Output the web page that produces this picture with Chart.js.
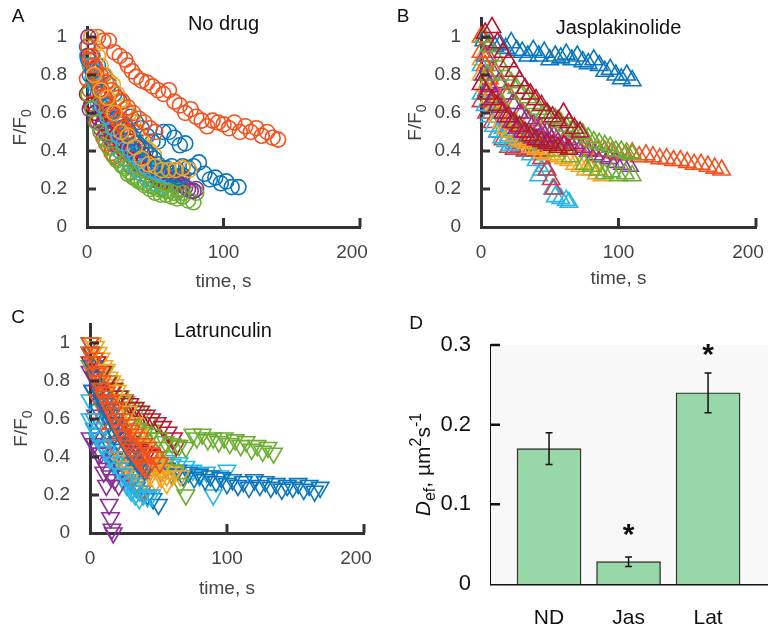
<!DOCTYPE html>
<html>
<head>
<meta charset="utf-8">
<script src="https://cdn.jsdelivr.net/npm/chart.js@4.4.1/dist/chart.umd.min.js"></script>
<style>
  body{margin:0;background:#fff;width:768px;height:627px;overflow:hidden;position:relative}
  canvas{position:absolute}
</style>
</head>
<body>
<canvas id="cA" width="384" height="300" style="left:0;top:0"></canvas>
<canvas id="cB" width="384" height="300" style="left:384px;top:0"></canvas>
<canvas id="cC" width="384" height="327" style="left:0;top:300px"></canvas>
<canvas id="cD" width="384" height="327" style="left:384px;top:300px"></canvas>
<script>
const FONT = "'Liberation Sans', Arial, Helvetica, sans-serif"
const COLORS = {blue:'#0a76bf', orange:'#f4511e', yellow:'#f7a51c', purple:'#8a2f9b',
  green:'#6aaf30', cyan:'#28b6e6', red:'#b8162e', rose:'#c9404f'}

// shared tick values for the recovery panels
const timeTicks = [0, 100, 200]
const ratioTicks = [0, 0.2, 0.4, 0.6, 0.8, 1]

// ---- A: No drug, [time s, F/F0]
const aBlue1 = [[0,0.95],[4,0.9],[8,0.85],[12,0.8],[16,0.75],[20,0.7],[24,0.66],[28,0.62],[32,0.58],[36,0.55],[40,0.52],[44,0.48],[48,0.45],[52,0.45],[56,0.5],[60,0.5],[64,0.47],[68,0.43],[72,0.44]]
const aOrange1 = [[3,1.0],[8,1.0],[12,0.98],[16,0.98],[20,0.92],[24,0.9],[28,0.88],[30,0.85],[33,0.82],[36,0.79],[40,0.77],[44,0.76],[48,0.74],[52,0.72],[56,0.7],[60,0.72],[64,0.66],[68,0.64],[72,0.6],[76,0.62],[80,0.58],[84,0.56],[88,0.53],[92,0.56],[96,0.55],[100,0.54],[104,0.52],[108,0.55],[112,0.5],[116,0.53],[120,0.5],[124,0.52],[128,0.48],[132,0.5],[136,0.47],[140,0.46]]
const aYellow1 = [[3,1.0],[5,0.95],[8,0.9],[10,0.85],[13,0.8],[16,0.77],[19,0.75],[22,0.7],[25,0.67],[28,0.62],[31,0.6],[34,0.55],[37,0.5],[40,0.45],[43,0.42],[46,0.4],[49,0.38],[52,0.3],[55,0.27],[58,0.24]]
const aPurple1 = [[1,1.0],[4,0.85],[8,0.7],[12,0.6],[16,0.52],[20,0.45],[24,0.4],[28,0.36],[32,0.32],[36,0.3],[40,0.28],[44,0.27],[48,0.25],[52,0.24],[56,0.24],[60,0.23],[64,0.22],[68,0.2],[72,0.21],[76,0.19],[80,0.2]]
const aGreen1 = [[2,0.85],[6,0.75],[10,0.62],[14,0.5],[18,0.42],[22,0.36],[26,0.32],[30,0.28],[34,0.26],[38,0.24],[42,0.22],[46,0.2],[50,0.18],[54,0.17],[58,0.17],[62,0.16],[66,0.15],[70,0.16],[74,0.14],[78,0.13],[80,0.18]]
const aCyan1 = [[0,0.9],[4,0.78],[8,0.65],[12,0.55],[16,0.48],[20,0.43],[24,0.4],[28,0.36],[32,0.33],[36,0.3],[40,0.28],[44,0.25],[48,0.23],[52,0.22],[56,0.21]]
const aRed1 = [[1,0.9],[5,0.8],[9,0.72],[13,0.65],[17,0.6],[21,0.56],[25,0.52],[29,0.48],[33,0.45],[37,0.42],[41,0.38],[45,0.34],[49,0.3],[53,0.27],[57,0.25],[61,0.26]]
const aBlue2 = [[2,0.8],[6,0.72],[10,0.64],[14,0.58],[18,0.53],[22,0.48],[26,0.44],[30,0.4],[34,0.37],[38,0.34],[42,0.32],[46,0.3],[50,0.31],[54,0.3],[58,0.31],[62,0.32],[66,0.3],[70,0.32],[74,0.31],[78,0.32],[82,0.34],[86,0.28],[90,0.25],[94,0.26],[98,0.23],[102,0.24],[106,0.21],[111,0.21]]
const aOrange2 = [[0,0.78],[2,0.72],[4,0.65],[6,0.6],[8,0.55],[10,0.5],[12,0.47],[14,0.44],[16,0.42],[18,0.39],[20,0.37]]
const aOrange3 = [[2,0.88],[6,0.84],[10,0.8],[14,0.76],[18,0.72],[22,0.68],[26,0.66],[30,0.63],[34,0.6],[38,0.57],[42,0.55],[46,0.52],[50,0.5]]
const aYellow2 = [[5,0.8],[10,0.72],[15,0.68],[20,0.6],[25,0.5],[30,0.48],[35,0.42],[40,0.36],[45,0.33],[50,0.32],[55,0.3],[60,0.3],[65,0.3],[70,0.31],[75,0.3]]
const aRed2 = [[0,0.7],[3,0.64],[6,0.6],[9,0.57],[12,0.55],[15,0.53],[18,0.5],[21,0.48],[24,0.46],[27,0.44],[30,0.42],[33,0.41],[36,0.4],[39,0.37],[42,0.35],[45,0.33],[48,0.3],[51,0.28],[54,0.25],[57,0.24],[60,0.27],[63,0.25],[66,0.24],[69,0.26]]
const aPurple2 = [[2,0.62],[6,0.56],[10,0.52],[14,0.49],[18,0.46],[22,0.43],[26,0.41],[30,0.39],[34,0.36],[38,0.33],[42,0.31],[46,0.29],[50,0.27],[54,0.26],[58,0.25],[62,0.26],[66,0.23],[70,0.22],[74,0.2],[78,0.19]]
const aGreen2 = [[1,0.7],[4,0.62],[7,0.55],[10,0.5],[13,0.46],[16,0.42],[19,0.38],[22,0.35],[25,0.33],[28,0.31],[31,0.29],[34,0.27],[37,0.25],[40,0.24],[43,0.23],[46,0.22],[49,0.21],[52,0.2],[55,0.2],[58,0.19],[61,0.19],[64,0.18],[67,0.19],[70,0.18]]
const aCyan2 = [[3,0.85],[7,0.74],[11,0.64],[15,0.58],[19,0.52],[23,0.48],[27,0.44],[31,0.41],[35,0.38],[39,0.35],[43,0.32],[47,0.3],[51,0.29],[55,0.28],[59,0.27]]
const aBlue3 = [[1,0.88],[4,0.82],[7,0.77],[10,0.72],[13,0.68],[16,0.64],[19,0.6],[22,0.57],[25,0.55],[28,0.53],[31,0.5],[34,0.47],[37,0.44],[40,0.42],[43,0.4],[46,0.38],[49,0.36],[52,0.33],[55,0.31],[58,0.3],[61,0.28],[64,0.27],[67,0.26],[70,0.27]]
const aOrange4 = [[1,0.95],[3,0.9],[5,0.85],[7,0.8],[9,0.76],[11,0.72],[13,0.68],[15,0.65],[17,0.62],[19,0.6],[21,0.58],[23,0.56],[25,0.54],[27,0.52],[29,0.5]]

// ---- B: Jasplakinolide
const bBlue = [[2,0.98],[6,0.96],[10,0.95],[14,0.96],[18,0.94],[22,0.97],[26,0.93],[30,0.92],[34,0.9],[38,0.93],[42,0.9],[46,0.92],[50,0.88],[54,0.9],[58,0.89],[62,0.91],[66,0.88],[70,0.9],[74,0.87],[78,0.86],[82,0.88],[86,0.85],[90,0.82],[94,0.83],[98,0.8],[102,0.78],[106,0.8],[110,0.77]]
const bOrange = [[0,1.0],[5,0.9],[10,0.82],[15,0.75],[20,0.7],[25,0.65],[30,0.6],[35,0.56],[40,0.53],[45,0.5],[50,0.48],[55,0.46],[60,0.45],[65,0.44],[70,0.43],[75,0.42],[80,0.41],[85,0.4],[90,0.4],[95,0.39],[100,0.38],[105,0.38],[110,0.39],[115,0.37],[120,0.38],[125,0.37],[130,0.36],[135,0.36],[140,0.35],[145,0.35],[150,0.34],[155,0.33],[160,0.33],[165,0.32],[170,0.31],[175,0.3]]
const bYellow = [[0,0.88],[4,0.8],[8,0.72],[12,0.65],[16,0.6],[20,0.56],[24,0.52],[28,0.5],[32,0.47],[36,0.45],[40,0.43],[44,0.41],[48,0.4],[52,0.38],[56,0.37],[60,0.36],[64,0.35],[68,0.33],[72,0.32],[76,0.3],[80,0.3],[84,0.28],[88,0.27]]
const bPurple = [[3,0.9],[8,0.82],[13,0.76],[18,0.7],[23,0.65],[28,0.6],[33,0.57],[38,0.54],[43,0.52],[48,0.5],[53,0.48],[58,0.47],[63,0.46],[68,0.44],[73,0.42],[78,0.4],[83,0.38],[88,0.37],[93,0.36],[98,0.34],[103,0.33],[108,0.32]]
const bGreen1 = [[2,1.0],[6,0.95],[10,0.9],[14,0.85],[18,0.8],[22,0.76],[26,0.73],[30,0.7],[34,0.68],[38,0.65],[42,0.62],[46,0.6],[50,0.58],[54,0.57],[58,0.55],[62,0.53],[66,0.51],[70,0.5],[74,0.49],[78,0.47],[82,0.45],[86,0.44],[90,0.43],[94,0.42],[98,0.4],[102,0.4],[106,0.39],[110,0.38]]
const bCyan = [[0,0.85],[4,0.72],[8,0.64],[12,0.58],[16,0.52],[20,0.48],[24,0.44],[28,0.42],[32,0.4],[36,0.38],[40,0.35],[42,0.27],[44,0.3],[46,0.32],[48,0.3],[52,0.2],[54,0.16],[58,0.15],[62,0.14],[64,0.13]]
const bRose = [[0,0.66],[4,0.6],[8,0.55],[12,0.5],[16,0.46],[20,0.42],[24,0.41],[28,0.42],[32,0.4],[36,0.41],[40,0.4],[44,0.36],[48,0.3],[51,0.25],[53,0.2]]
const bGreen2 = [[5,0.8],[15,0.65],[25,0.55],[35,0.48],[45,0.44],[55,0.4],[65,0.37],[75,0.33],[80,0.32],[85,0.3],[90,0.28],[95,0.29],[100,0.27],[105,0.28],[110,0.27]]
const bRed = [[3,1.02],[8,1.05],[12,0.97],[16,0.92],[20,0.87],[24,0.82],[28,0.77],[32,0.73],[36,0.7],[40,0.67],[44,0.64],[48,0.6],[52,0.58],[56,0.56],[60,0.6],[64,0.55],[68,0.52],[72,0.5]]
const bRed3 = [[0,0.75],[4,0.7],[8,0.67],[12,0.64],[16,0.6],[20,0.58],[24,0.55],[28,0.53],[32,0.5],[36,0.48],[40,0.46],[44,0.45],[48,0.44],[52,0.43],[56,0.42],[60,0.43],[64,0.41]]
const bOrange2 = [[0,0.92],[3,0.85],[6,0.78],[9,0.72],[12,0.68],[15,0.64],[18,0.6],[21,0.56],[24,0.54],[27,0.52],[30,0.5],[33,0.48],[36,0.46],[39,0.45]]
const bYellow2 = [[0,0.8],[3,0.74],[6,0.68],[9,0.63],[12,0.58],[15,0.55],[18,0.52],[21,0.5],[24,0.48],[27,0.46],[30,0.45],[33,0.44],[36,0.42],[40,0.41],[44,0.39],[48,0.38]]
const bPurple2 = [[2,0.8],[6,0.74],[10,0.68],[14,0.63],[18,0.58],[22,0.55],[26,0.52],[30,0.5],[34,0.48],[38,0.47],[42,0.46],[46,0.45],[50,0.44]]
const bCyan2 = [[0,0.7],[3,0.64],[6,0.58],[9,0.53],[12,0.5],[15,0.47],[18,0.45],[21,0.43]]

// ---- C: Latrunculin
const cBlue1 = [[0,1.0],[2,0.9],[4,0.82],[6,0.75],[8,0.7],[10,0.66],[12,0.62],[14,0.58],[16,0.55],[18,0.52],[20,0.48],[24,0.44],[28,0.4],[32,0.38],[36,0.36],[40,0.34],[44,0.33],[48,0.35],[52,0.32],[56,0.34],[60,0.31],[64,0.33],[68,0.3],[72,0.32],[76,0.29],[80,0.31],[84,0.28],[88,0.3],[92,0.27],[96,0.29],[100,0.26],[104,0.28],[108,0.25],[112,0.27],[116,0.24],[120,0.28],[124,0.25],[128,0.27],[132,0.24],[136,0.26],[140,0.23],[144,0.25],[148,0.24],[152,0.26],[156,0.23],[160,0.25],[164,0.22],[168,0.24]]
const cOrange1 = [[0,1.0],[3,0.92],[6,0.85],[9,0.8],[12,0.74],[15,0.7],[18,0.66],[21,0.63],[24,0.6],[27,0.57],[30,0.54],[33,0.52],[36,0.5],[39,0.47],[42,0.45],[45,0.42],[48,0.4],[51,0.37]]
const cYellow1 = [[2,1.0],[6,0.95],[10,0.88],[14,0.82],[18,0.78],[22,0.72],[26,0.66],[30,0.6],[34,0.55],[38,0.5],[42,0.45],[46,0.4],[50,0.37],[54,0.35],[58,0.33],[62,0.32],[66,0.3]]
const cPurple1 = [[0,0.85],[2,0.75],[4,0.62],[6,0.52],[8,0.42],[10,0.32],[12,0.25],[14,0.15],[15,0.08],[16,0.02],[17,0.0]]
const cGreen1 = [[2,0.95],[6,0.9],[10,0.85],[14,0.8],[18,0.76],[22,0.72],[26,0.69],[30,0.66],[34,0.64],[38,0.62],[42,0.58],[46,0.54],[50,0.5],[54,0.45],[58,0.4],[62,0.33],[66,0.26],[70,0.2]]
const cCyan1 = [[0,0.7],[3,0.6],[6,0.52],[9,0.46],[12,0.42],[15,0.38],[18,0.35],[21,0.32],[24,0.28],[27,0.25],[30,0.22],[33,0.2],[36,0.18]]
const cRed1 = [[1,0.95],[5,0.9],[9,0.85],[13,0.8],[17,0.76],[21,0.72],[25,0.7],[29,0.68],[33,0.66],[37,0.64],[41,0.62],[45,0.6],[49,0.58],[53,0.56],[57,0.53],[61,0.5],[63,0.46]]
const cBlue2 = [[2,0.75],[6,0.65],[10,0.55],[14,0.47],[18,0.4],[22,0.35],[26,0.3],[30,0.27],[34,0.24],[38,0.22],[42,0.2],[46,0.18],[50,0.15]]
const cOrange2 = [[2,0.85],[6,0.7],[10,0.6],[14,0.52],[18,0.46],[22,0.4],[26,0.35],[30,0.3],[34,0.26],[38,0.22]]
const cYellow2 = [[20,0.4],[24,0.38],[28,0.35],[32,0.32],[36,0.3],[40,0.28],[44,0.3],[48,0.27],[52,0.29],[56,0.26]]
const cPurple2 = [[0,0.5],[3,0.47],[6,0.42],[9,0.38],[12,0.34],[15,0.3],[18,0.28],[21,0.25]]
const cGreen2 = [[0,0.88],[5,0.8],[10,0.74],[15,0.68],[20,0.63],[25,0.6],[30,0.57],[35,0.55],[40,0.53],[45,0.52],[50,0.5],[55,0.48],[60,0.47],[65,0.46],[70,0.45],[75,0.52],[78,0.5],[82,0.52],[86,0.49],[90,0.5],[94,0.48],[98,0.5],[102,0.47],[106,0.49],[110,0.46],[114,0.48],[118,0.44],[122,0.46],[126,0.43],[130,0.45],[134,0.42]]
const cCyan2 = [[5,0.5],[10,0.45],[15,0.42],[20,0.4],[25,0.38],[30,0.37],[35,0.36],[40,0.37],[45,0.35],[50,0.36],[55,0.38],[60,0.36],[65,0.37],[70,0.35],[75,0.33],[80,0.3],[85,0.32],[90,0.2],[95,0.3],[100,0.33]]
const cRed2 = [[0,0.9],[3,0.82],[6,0.75],[9,0.7],[12,0.66],[15,0.62],[18,0.58],[21,0.55],[24,0.52],[27,0.5],[30,0.48],[33,0.46],[36,0.44],[39,0.43],[42,0.42],[45,0.41]]
const cBlue3 = [[0,0.95],[2,0.88],[4,0.82],[6,0.77],[8,0.72],[10,0.68],[12,0.65],[14,0.62],[16,0.6],[18,0.57],[20,0.55],[22,0.52],[24,0.5],[26,0.47],[28,0.45],[30,0.42],[32,0.4],[34,0.38],[36,0.36],[38,0.35],[40,0.33]]
const cOrange3 = [[0,0.95],[2,0.9],[4,0.84],[6,0.8],[8,0.76],[10,0.72],[12,0.69],[14,0.66],[16,0.63],[18,0.6],[20,0.57],[22,0.54],[24,0.51],[26,0.48],[28,0.46],[30,0.44],[32,0.42],[34,0.4],[36,0.38],[38,0.36],[40,0.35],[42,0.34]]
const cYellow3 = [[4,0.98],[8,0.92],[12,0.86],[16,0.8],[20,0.75],[24,0.7],[28,0.64],[32,0.58],[36,0.52],[40,0.46],[44,0.4],[48,0.36],[52,0.33],[56,0.3],[60,0.3]]
const cCyan3 = [[0,0.6],[3,0.55],[6,0.5],[9,0.46],[12,0.43],[15,0.4],[18,0.37],[21,0.34],[24,0.31],[27,0.28],[30,0.26],[33,0.24],[36,0.22],[39,0.2],[42,0.19],[45,0.2]]

// ---- D: effective diffusion coefficient
const dLabels = ['ND', 'Jas', 'Lat']
const dValues = [0.17, 0.028, 0.24]
const dErrors = [0.02, 0.006, 0.025]
const dStars = ['', '*', '*']
const dStarAt = [null, 0.068, 0.294]
const dTicks = [0, 0.1, 0.2, 0.3]

// bottom-to-top drawing order
const seriesA = [[aBlue1,'blue'],[aOrange1,'orange'],[aYellow1,'yellow'],[aPurple1,'purple'],[aGreen1,'green'],[aCyan1,'cyan'],[aRed1,'red'],
  [aBlue2,'blue'],[aOrange2,'orange'],[aRed2,'red'],[aPurple2,'purple'],[aGreen2,'green'],[aCyan2,'cyan'],[aBlue3,'blue'],[aOrange4,'orange'],
  [aOrange3,'orange'],[aYellow2,'yellow']]
const seriesB = [[bBlue,'blue'],[bOrange,'orange'],[bYellow,'yellow'],[bPurple,'purple'],[bGreen1,'green'],[bCyan,'cyan'],[bRose,'rose'],
  [bCyan2,'cyan'],[bOrange2,'orange'],[bYellow2,'yellow'],[bPurple2,'purple'],[bGreen2,'green'],[bRed3,'red'],[bRed,'red']]
const seriesC = [[cCyan2,'cyan'],[cBlue1,'blue'],[cYellow1,'yellow'],[cPurple1,'purple'],[cGreen1,'green'],[cCyan1,'cyan'],[cRed1,'red'],
  [cBlue2,'blue'],[cOrange2,'orange'],[cYellow2,'yellow'],[cPurple2,'purple'],[cGreen2,'green'],[cCyan3,'cyan'],[cRed2,'red'],
  [cBlue3,'blue'],[cYellow3,'yellow'],[cOrange3,'orange'],[cOrange1,'orange']]

function fmt(v){ return String(Math.round(v * 10) / 10) }

function drawRich(ctx, parts, x, y, size, color, rot){
  ctx.save()
  ctx.translate(x, y)
  if(rot) ctx.rotate(rot)
  const fonts = parts.map(p => (p.it ? 'italic ' : '') + Math.round((p.sub || p.sup) ? size * 0.74 : size) + 'px ' + FONT)
  let w = 0
  parts.forEach((p, i) => { ctx.font = fonts[i]; w += ctx.measureText(p.t).width })
  let cx = -w / 2
  ctx.textAlign = 'left'
  ctx.textBaseline = 'alphabetic'
  ctx.fillStyle = color
  const base = size * 0.36
  parts.forEach((p, i) => {
    ctx.font = fonts[i]
    const dy = p.sub ? size * 0.28 : p.sup ? -size * 0.42 : 0
    ctx.fillText(p.t, cx, base + dy)
    cx += ctx.measureText(p.t).width
  })
  ctx.restore()
}

// panel decoration: inward ticks, letter, titles, background, error bars
const decor = {
  id: 'decor',
  beforeDatasetsDraw(chart, args, o){
    if(!o.bg) return
    const a = chart.chartArea, ctx = chart.ctx
    ctx.save()
    ctx.fillStyle = o.bg
    ctx.fillRect(a.left, a.top, a.right - a.left, a.bottom - a.top)
    ctx.restore()
  },
  afterDraw(chart, args, o){
    const ctx = chart.ctx, a = chart.chartArea
    const xs = chart.scales.x, ys = chart.scales.y
    ctx.save()
    ctx.strokeStyle = o.axisColor
    ctx.lineWidth = o.tickWidth
    ctx.beginPath()
    if(o.xTickMarks) xs.ticks.forEach(t => {
      if(t.value === xs.min) return
      const px = xs.getPixelForValue(t.value)
      ctx.moveTo(px, a.bottom); ctx.lineTo(px, a.bottom - o.tickLen)
    })
    ys.ticks.forEach(t => {
      if(t.value === ys.min) return
      const py = ys.getPixelForValue(t.value)
      ctx.moveTo(a.left, py); ctx.lineTo(a.left + o.tickLen, py)
    })
    ctx.stroke()

    if(o.errors){
      ctx.strokeStyle = '#111'
      ctx.lineWidth = 1.5
      ctx.beginPath()
      o.values.forEach((v, i) => {
        const px = xs.getPixelForValue(i + 1)
        const y1 = ys.getPixelForValue(v - o.errors[i]), y2 = ys.getPixelForValue(v + o.errors[i])
        ctx.moveTo(px, y1); ctx.lineTo(px, y2)
        ctx.moveTo(px - 3.5, y1); ctx.lineTo(px + 3.5, y1)
        ctx.moveTo(px - 3.5, y2); ctx.lineTo(px + 3.5, y2)
      })
      ctx.stroke()
      ctx.fillStyle = '#111'
      ctx.font = 'bold 30px ' + FONT
      ctx.textAlign = 'center'
      ctx.textBaseline = 'middle'
      o.stars.forEach((s, i) => {
        if(!s) return
        ctx.fillText(s, xs.getPixelForValue(i + 1), ys.getPixelForValue(o.starAt[i]) + 6)
      })
    }
    ctx.restore()

    drawRich(ctx, [{t: o.letter}], o.letterX, o.letterY, 19, '#111')
    if(o.title) drawRich(ctx, [{t: o.title}], (a.left + a.right) / 2 + (o.titleDx || 0), o.titleY, 20, '#111')
    if(o.xTitle) drawRich(ctx, o.xTitle, (a.left + a.right) / 2, o.xTitleY, 19, o.labelColor)
    drawRich(ctx, o.yTitle, o.yTitleX, (a.top + a.bottom) / 2, o.yTitleSize, o.labelColor, -Math.PI / 2)
  }
}

function fixBox(size, prop){
  return function(scale){
    scale[prop] = size
    scale.paddingLeft = scale.paddingRight = scale.paddingTop = scale.paddingBottom = 0
  }
}

function scatterPanel(id, series, marker, box, yMax, deco){
  const canvas = document.getElementById(id)
  const W = canvas.width, H = canvas.height
  const datasets = series.slice().reverse().map(([pts, c]) => ({
    data: pts.map(p => ({x: p[0], y: p[1]})),
    borderColor: COLORS[c],
    backgroundColor: 'rgba(0,0,0,0)',
    pointStyle: marker.style,
    pointRotation: marker.rot,
    pointRadius: marker.r,
    pointHoverRadius: marker.r,
    pointBorderWidth: 1.6,
    showLine: false,
    clip: false
  }))
  const tickFont = {family: FONT, size: 19}
  return new Chart(canvas, {
    type: 'scatter',
    data: {datasets},
    plugins: [decor],
    options: {
      responsive: false,
      animation: false,
      layout: {padding: {left: 0, top: box.top, right: W - box.right, bottom: 0}},
      plugins: {legend: {display: false}, tooltip: {enabled: false},
        decor: Object.assign({axisColor: '#333', tickWidth: 3, tickLen: 9, xTickMarks: true,
          labelColor: '#444', yTitleSize: 19,
          xTitle: [{t: 'time, s'}], yTitle: [{t: 'F/F'}, {t: '0', sub: true}]}, deco)},
      scales: {
        x: {type: 'linear', min: 0, max: 200,
          afterBuildTicks: s => { s.ticks = timeTicks.map(v => ({value: v})) },
          afterFit: fixBox(H - box.bottom, 'height'),
          grid: {display: false, drawTicks: false},
          border: {display: true, color: '#333', width: 3},
          ticks: {font: tickFont, color: '#444', padding: 14, maxRotation: 0,
            callback: (v, i, t) => i === t.length - 1 ? v + '   ' : String(v)}},
        y: {type: 'linear', min: 0, max: yMax,
          afterBuildTicks: s => { s.ticks = ratioTicks.map(v => ({value: v})) },
          afterFit: fixBox(box.left, 'width'),
          grid: {display: false, drawTicks: false},
          border: {display: true, color: '#333', width: 3},
          ticks: {font: tickFont, color: '#444', padding: 20, callback: v => fmt(v)}}
      }
    }
  })
}

scatterPanel('cA', seriesA, {style: 'circle', rot: 0, r: 7.5}, {left: 87, right: 360, top: 27.5, bottom: 227}, 1.05,
  {letter: 'A', letterX: 18, letterY: 15, title: 'No drug', titleY: 23, xTitleY: 280, yTitleX: 19})
scatterPanel('cB', seriesB, {style: 'triangle', rot: 0, r: 10}, {left: 97, right: 372, top: 18, bottom: 227}, 1.1,
  {letter: 'B', letterX: 19, letterY: 15, title: 'Jasplakinolide', titleY: 27, xTitleY: 277, yTitleX: 30})
scatterPanel('cC', seriesC, {style: 'triangle', rot: 180, r: 10}, {left: 90, right: 364, top: 24, bottom: 233}, 1.1,
  {letter: 'C', letterX: 18, letterY: 16, title: 'Latrunculin', titleY: 30, titleDx: -4, xTitleY: 287, yTitleX: 20})

// D bar panel
;(function(){
  const canvas = document.getElementById('cD')
  const W = canvas.width, H = canvas.height
  const box = {left: 107, right: 384, top: 45, bottom: 284}
  new Chart(canvas, {
    type: 'bar',
    data: {datasets: [{
      data: dValues.map((v, i) => ({x: i + 1, y: v})),
      backgroundColor: '#98d8a8',
      borderColor: '#333',
      borderWidth: 1.4,
      barThickness: 64
    }]},
    plugins: [decor],
    options: {
      responsive: false,
      animation: false,
      layout: {padding: {left: 0, top: box.top, right: W - box.right, bottom: 0}},
      plugins: {legend: {display: false}, tooltip: {enabled: false},
        decor: {axisColor: '#111', tickWidth: 2.5, tickLen: 9, xTickMarks: false, bg: '#f8f8f8',
          labelColor: '#111', letter: 'D', letterX: 32, letterY: 22,
          yTitle: [{t: 'D', it: true}, {t: 'ef', sub: true}, {t: ', \u00b5m'}, {t: '2', sup: true}, {t: 's'}, {t: '-1', sup: true}],
          yTitleX: 38, yTitleSize: 21,
          values: dValues, errors: dErrors, stars: dStars, starAt: dStarAt}},
      scales: {
        x: {type: 'linear', min: 0.27, max: 3.754, offset: false,
          afterBuildTicks: s => { s.ticks = dLabels.map((l, i) => ({value: i + 1})) },
          afterFit: fixBox(H - box.bottom, 'height'),
          grid: {display: false, drawTicks: false, offset: false},
          border: {display: true, color: '#111', width: 2.5},
          ticks: {font: {family: FONT, size: 21}, color: '#111', padding: 22, maxRotation: 0,
            callback: v => dLabels[Math.round(v) - 1]}},
        y: {type: 'linear', min: 0, max: 0.3,
          afterBuildTicks: s => { s.ticks = dTicks.map(v => ({value: v})) },
          afterFit: fixBox(box.left, 'width'),
          grid: {display: false, drawTicks: false},
          border: {display: true, color: '#111', width: 2.5},
          ticks: {font: {family: FONT, size: 22}, color: '#111', padding: 20, callback: v => fmt(v)}}
      }
    }
  })
})()
</script>
</body>
</html>
